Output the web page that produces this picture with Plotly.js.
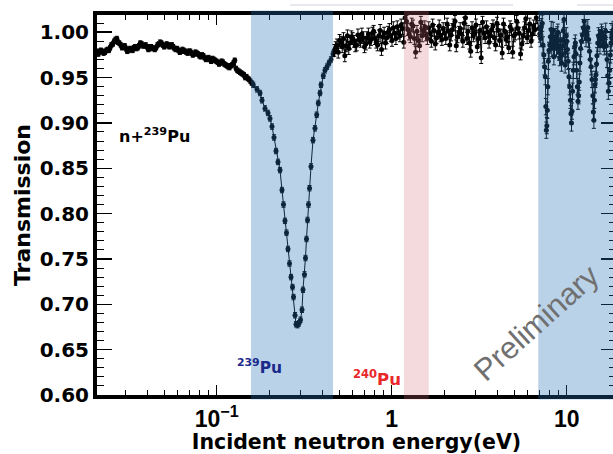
<!DOCTYPE html>
<html><head><meta charset="utf-8">
<script src="https://cdn.plot.ly/plotly-3.0.1.min.js"></script>
<style>html,body{margin:0;padding:0;overflow:hidden;background:#fff}#chart{width:616px;height:454px}</style>
</head><body><div id="chart"></div>
<script>
// Segment A: smooth region below the 0.3 eV resonance (two interleaved sets of bins)
const energyA = [0.0207,0.0214,0.0222,0.023,0.0238,0.0246,0.0255,0.0264,0.0273,0.0283,0.0293,0.0303,0.0314,0.0325,0.0336,0.0348,0.036,0.0373,0.0386,0.04,0.0414,0.0428,0.0443,0.0459,0.0475,0.0492,0.0509,0.0527,0.0545,0.0564,0.0584,0.0605,0.0626,0.0648,0.0671,0.0694,0.0718,0.0743,0.0769,0.0796,0.0824,0.0853,0.0883,0.0914,0.0946,0.0979,0.1013,0.1049,0.1086,0.1124,0.1163,0.1204,0.1246,0.129,0.1335,0.1382,0.143,0.148,0.1532,0.1586];
const transA = [0.979,0.978,0.979,0.978,0.981,0.983,0.987,0.992,0.989,0.986,0.984,0.982,0.980,0.981,0.983,0.982,0.985,0.987,0.985,0.984,0.982,0.983,0.981,0.986,0.989,0.986,0.985,0.986,0.985,0.984,0.981,0.980,0.979,0.980,0.978,0.979,0.977,0.976,0.977,0.974,0.975,0.972,0.971,0.970,0.971,0.969,0.967,0.966,0.967,0.964,0.962,0.963,0.966,0.960,0.957,0.955,0.953,0.951,0.948,0.944];
const energyA2 = [0.02106,0.02177,0.02259,0.0234,0.02421,0.02503,0.02594,0.02686,0.02777,0.02879,0.02981,0.03083,0.03195,0.03306,0.03418,0.0354,0.03663,0.03795,0.03927,0.0407,0.04211,0.04355,0.04507,0.0467,0.04833,0.05005,0.05179,0.05361,0.05545,0.05738,0.05942,0.06155,0.06369,0.06593,0.06826,0.07061,0.07305,0.07559,0.07824,0.08098,0.08383,0.08678,0.08984,0.09299,0.09625,0.09961,0.1031,0.1067,0.1105,0.1144,0.1183,0.1225,0.1268,0.1312,0.1358,0.1406,0.1455,0.1506,0.156];
const transA2 = [0.976,0.980,0.977,0.980,0.980,0.986,0.990,0.993,0.988,0.983,0.985,0.979,0.982,0.980,0.984,0.983,0.988,0.985,0.986,0.981,0.984,0.982,0.983,0.987,0.988,0.984,0.987,0.984,0.986,0.982,0.982,0.978,0.981,0.979,0.977,0.979,0.975,0.978,0.976,0.973,0.974,0.970,0.972,0.968,0.970,0.968,0.965,0.968,0.965,0.963,0.961,0.964,0.969,0.958,0.956,0.954,0.950,0.949,0.946];
const errA = 0.0025;
// Segment B: 239Pu resonance at ~0.3 eV
const energyB = [0.1618,0.1699,0.1768,0.1815,0.1888,0.1964,0.2016,0.207,0.2125,0.2182,0.224,0.23,0.2361,0.2408,0.2456,0.2505,0.2555,0.2606,0.2658,0.2711,0.2747,0.2802,0.2839,0.2895,0.2953,0.3012,0.3072,0.3112,0.3174,0.3216,0.3259,0.3303,0.3346,0.3391,0.3458,0.355,0.3644,0.3727,0.3807,0.3893,0.3945,0.4065,0.4158,0.4269,0.4382,0.4498,0.462];
const transB = [0.942,0.937,0.933,0.925,0.916,0.911,0.905,0.896,0.884,0.869,0.857,0.848,0.826,0.810,0.792,0.779,0.761,0.745,0.730,0.719,0.708,0.688,0.678,0.677,0.679,0.683,0.694,0.716,0.733,0.751,0.772,0.793,0.810,0.828,0.852,0.881,0.894,0.909,0.922,0.933,0.942,0.952,0.958,0.962,0.966,0.970,0.976];
const errB = 0.003;
// Segment C: flat region 0.47 - 6.9 eV (two interleaved sets of bins)
const energyC = [0.47,0.4865,0.5036,0.5213,0.5396,0.5585,0.5781,0.5984,0.6194,0.6412,0.6637,0.687,0.7111,0.7361,0.7619,0.7887,0.8164,0.845,0.8747,0.9054,0.9372,0.9701,1.004,1.039,1.076,1.114,1.153,1.193,1.235,1.279,1.324,1.37,1.418,1.468,1.519,1.573,1.628,1.685,1.744,1.806,1.869,1.935,2.003,2.073,2.146,2.221,2.299,2.38,2.464,2.55,2.64,2.732,2.828,2.928,3.031,3.137,3.247,3.361,3.479,3.602,3.728,3.859,3.994,4.135,4.28,4.43,4.586,4.747,4.914,5.086,5.265,5.45,5.641,5.839,6.044,6.257,6.476,6.704];
const transC = [0.980,0.986,0.991,0.984,0.974,0.996,0.988,0.993,0.985,0.997,0.990,0.994,0.987,0.998,0.992,1.001,0.989,0.996,0.981,0.999,0.994,1.003,0.991,0.999,1.006,0.996,1.004,1.016,1.003,0.995,1.007,0.978,0.991,1.011,1.002,0.997,1.005,0.990,1.002,0.994,1.007,0.992,0.999,1.009,0.986,1.003,1.012,0.995,1.004,0.990,1.016,1.001,0.979,0.996,1.008,0.993,0.972,0.999,1.006,0.989,1.003,0.994,1.010,0.991,0.977,1.001,0.995,1.006,0.978,0.998,1.004,0.976,0.996,1.015,1.002,0.990,1.007,1.016];
const energyC2 = [0.4782,0.495,0.5124,0.5304,0.549,0.5683,0.5882,0.6089,0.6302,0.6524,0.6753,0.699,0.7235,0.7489,0.7753,0.8024,0.8306,0.8597,0.8899,0.9212,0.9535,0.987,1.0215,1.0574,1.0946,1.1333,1.1731,1.2141,1.2568,1.3012,1.347,1.394,1.443,1.493,1.546,1.6,1.656,1.714,1.775,1.837,1.902,1.969,2.038,2.109,2.183,2.26,2.339,2.422,2.507,2.595,2.686,2.78,2.878,2.979,3.084,3.192,3.304,3.42,3.54,3.665,3.793,3.926,4.064,4.207,4.354,4.508,4.666,4.83,5.0,5.175,5.357,5.545,5.74,5.941,6.15,6.366,6.59];
const transC2 = [0.983,0.978,0.989,0.993,0.985,0.982,0.995,0.990,0.986,0.992,0.998,0.984,0.994,0.989,0.999,0.993,0.986,1.002,0.995,0.988,1.000,0.996,1.005,0.993,0.999,1.008,0.989,1.012,0.998,1.009,0.993,1.001,0.985,0.996,1.006,0.993,0.999,1.008,0.987,1.000,0.996,1.004,0.993,1.001,0.997,1.008,0.985,1.000,0.998,1.010,0.993,0.988,1.005,0.999,0.984,1.002,1.011,0.994,1.000,0.996,1.007,0.986,1.002,0.997,1.009,0.992,0.983,1.003,0.996,1.012,0.999,0.987,1.005,0.994,1.009,0.998,1.003];
const errC = 0.0065;
// Segment D: resolved resonances above 7 eV (two interleaved sets of bins)
const energyD = [6.95,7.1,7.25,7.4,7.55,7.65,7.75,7.85,8.0,8.15,8.3,8.45,8.6,8.75,8.9,9.05,9.2,9.35,9.5,9.65,9.8,9.95,10.1,10.3,10.5,10.65,10.8,11.0,11.2,11.4,11.6,11.8,12.0,12.3,12.6,12.9,13.2,13.5,13.8,14.1,14.3,14.5,14.7,14.9,15.2,15.5,15.8,16.1,16.4,16.7,17.0,17.3,17.6,17.9,18.2,18.5,18.8];
const transD = [1.004,0.993,1.010,0.975,0.951,0.892,0.914,0.968,0.986,1.003,0.990,0.973,0.995,0.982,1.000,0.978,0.991,0.966,0.985,1.014,0.964,0.996,0.981,0.951,0.925,0.900,0.935,0.973,0.988,0.958,0.924,0.945,0.982,0.997,1.012,0.993,1.005,0.979,0.962,0.930,0.903,0.942,0.953,0.974,0.996,0.985,1.000,0.992,0.984,1.001,0.970,0.935,0.958,0.988,0.999,1.003,0.990];
const energyD2 = [7.02,7.17,7.32,7.47,7.6,7.7,7.8,7.92,8.07,8.22,8.37,8.52,8.67,8.82,8.97,9.12,9.27,9.42,9.57,9.72,9.87,10.02,10.2,10.4,10.58,10.72,10.9,11.1,11.3,11.5,11.7,11.9,12.15,12.45,12.75,13.05,13.35,13.65,13.95,14.2,14.4,14.6,14.8,15.05,15.35,15.65,15.95,16.25,16.55,16.85,17.15,17.45,17.75,18.05,18.35,18.65];
const transD2 = [0.998,1.006,0.986,0.962,0.918,0.897,0.940,0.980,0.995,0.982,1.002,0.984,0.990,0.997,0.985,0.972,0.983,0.975,1.002,0.990,0.978,0.990,0.968,0.940,0.910,0.913,0.958,0.984,0.976,0.940,0.930,0.966,0.990,1.005,1.000,0.998,0.992,0.970,0.948,0.912,0.925,0.948,0.965,0.988,0.993,0.994,0.997,0.988,0.995,0.985,0.952,0.944,0.975,0.994,1.001,0.996];
const errD = 0.009;

const xTickVals = [0.1, 1, 10];
const xTickText = ['10<sup>\u22121</sup>', '1', '10'];
const xMinorVals = [0.03,0.04,0.05,0.06,0.07,0.08,0.09,0.2,0.3,0.4,0.5,0.6,0.7,0.8,0.9,2,3,4,5,6,7,8,9];
const band239 = [0.157, 0.462];
const band240 = [1.175, 1.63];
const bandHigh = [6.88, 40];

// gather all bins, then order them by energy for the connecting line
const pts = [];
function add(es, ts, e) { es.forEach((v, i) => pts.push([v, ts[i], e])); }
add(energyA, transA, errA); add(energyA2, transA2, errA);
add(energyB, transB, errB);
add(energyC, transC, errC); add(energyC2, transC2, errC);
add(energyD, transD, errD); add(energyD2, transD2, errD);
pts.sort((a, b) => a[0] - b[0]);

const trace = {
  type: 'scatter', mode: 'lines+markers',
  x: pts.map(p => p[0]), y: pts.map(p => p[1]),
  line: {color: '#000', width: 1},
  marker: {color: '#000', size: 5},
  error_y: {type: 'data', array: pts.map(p => p[2]), visible: true, color: '#000', thickness: 1, width: 2},
  hoverinfo: 'none'
};

const bold = (fam, size, color) => ({family: fam, size: size, color: color || '#000', weight: 'bold'});

function band(r, color) {
  return {type: 'rect', xref: 'x', yref: 'paper', x0: r[0], x1: r[1], y0: -0.012, y1: 1.012,
          fillcolor: color, line: {width: 0}, layer: 'above'};
}

const layout = {
  width: 616, height: 454,
  margin: {l: 97, r: 0, t: 15, b: 59},
  paper_bgcolor: '#fff', plot_bgcolor: '#fff', showlegend: false,
  xaxis: {
    type: 'log', range: [-1.684, 1.2817], autorange: false,
    showline: true, linecolor: '#000', linewidth: 4, mirror: 'ticks',
    ticks: 'inside', ticklen: 10, tickwidth: 1.5, tickcolor: '#000',
    tickmode: 'array', tickvals: xTickVals, ticktext: xTickText,
    tickfont: bold('Liberation Sans, Arial, sans-serif', 23),
    showgrid: false, zeroline: false,
    minor: {tickmode: 'array', tickvals: xMinorVals, ticks: 'inside', ticklen: 5, tickwidth: 1, tickcolor: '#000', showgrid: false},
    title: {text: 'Incident neutron energy(eV)', font: bold('DejaVu Sans', 20.5), standoff: 7}
  },
  yaxis: {
    range: [0.6, 1.019], autorange: false,
    showline: true, linecolor: '#000', linewidth: 4, mirror: 'ticks',
    ticks: 'inside', ticklen: 15, tickwidth: 1.5, tickcolor: '#000',
    tickmode: 'linear', tick0: 0.6, dtick: 0.05, tickformat: '.2f',
    tickfont: bold('DejaVu Sans', 20),
    showgrid: false, zeroline: false,
    minor: {tick0: 0.6, dtick: 0.01, ticks: 'inside', ticklen: 7, tickwidth: 1, tickcolor: '#000', showgrid: false},
    title: {text: 'Transmission', font: bold('DejaVu Sans', 22), standoff: 4}
  },
  shapes: [
    band(band239, 'rgba(40,115,185,0.32)'),
    band(band240, 'rgba(215,107,119,0.25)'),
    band(bandHigh, 'rgba(40,115,185,0.32)'),
    {type: 'line', xref: 'paper', yref: 'paper', x0: 0.372, x1: 0.8015, y0: 1.026, y1: 1.026, line: {color: '#e8e8ee', width: 2}},
    {type: 'line', xref: 'paper', yref: 'paper', x0: 0.925, x1: 1.0, y0: 1.026, y1: 1.026, line: {color: '#e8e8ee', width: 2}}
  ],
  annotations: [
    {xref: 'paper', yref: 'paper', x: 0.0385, y: 0.6816, xanchor: 'left', yanchor: 'middle', showarrow: false,
     text: 'n+<sup>239</sup>Pu', font: bold('DejaVu Sans', 16)},
    {xref: 'paper', yref: 'paper', x: 0.3135, y: 0.0763, xanchor: 'center', yanchor: 'middle', showarrow: false,
     text: '<sup>239</sup>Pu', font: bold('DejaVu Sans', 15.5, '#1a2a8a')},
    {xref: 'paper', yref: 'paper', x: 0.539, y: 0.0447, xanchor: 'center', yanchor: 'middle', showarrow: false,
     text: '<sup>240</sup>Pu', font: bold('DejaVu Sans', 16.5, '#e8282a')},
    {xref: 'paper', yref: 'paper', x: 0.8478, y: 0.1895, xanchor: 'center', yanchor: 'middle', showarrow: false,
     text: 'Preliminary', textangle: -42, font: {family: 'Liberation Sans, Arial, sans-serif', size: 31, color: '#707070'}}
  ]
};

Plotly.newPlot('chart', [trace], layout, {displayModeBar: false, staticPlot: true});
</script>
</body></html>
